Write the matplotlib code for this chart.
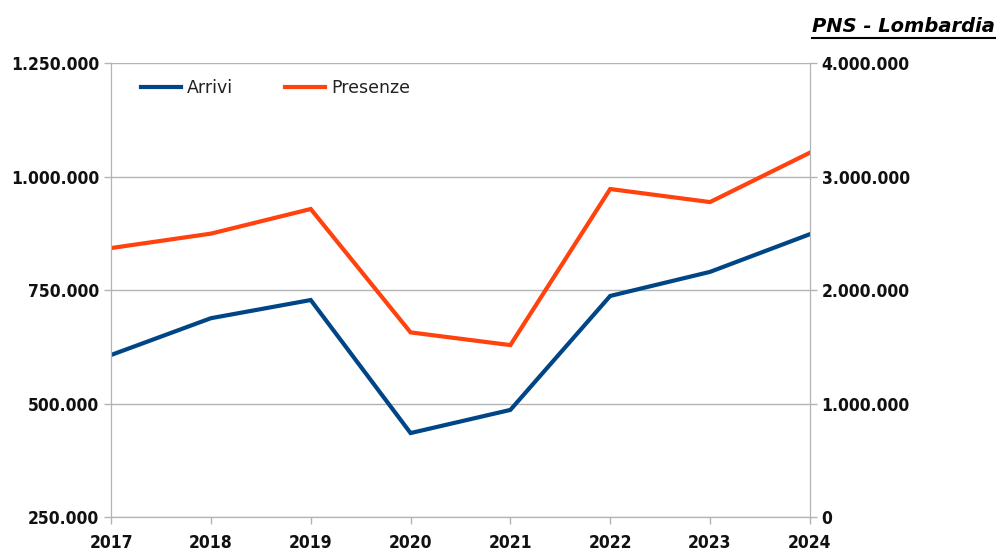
import matplotlib as mpl
mpl.use('Agg')

import numpy as np
import matplotlib.pyplot as plt
from matplotlib.lines import Line2D
from matplotlib.ticker import FuncFormatter

years = ['2017', '2018', '2019', '2020', '2021', '2022', '2023', '2024']
arrivi = [607000, 688000, 728000, 435000, 486000, 737000, 790000, 873000]
presenze = [2370000, 2497000, 2714000, 1627000, 1515000, 2890000, 2775000, 3210000]

BLUE = '#004586'
ORANGE = '#ff420e'
GRID = '#b3b3b3'

def it_fmt(v, pos):
    return '{:,.0f}'.format(v).replace(',', '.')

fig = plt.figure(figsize=(10.01, 5.53), dpi=100, facecolor='white')
ax1 = fig.add_axes([0.111, 0.065, 0.698, 0.821])
ax2 = ax1.twinx()

x = np.arange(len(years))
l1, = ax1.plot(x, arrivi, color=BLUE, linewidth=3.0, solid_joinstyle='miter', label='Arrivi')
l2, = ax2.plot(x, presenze, color=ORANGE, linewidth=3.0, solid_joinstyle='miter', label='Presenze')

ax1.set_xlim(0, len(years) - 1)
ax1.set_ylim(250000, 1250000)
ax2.set_ylim(0, 4000000)
ax1.set_yticks([250000, 500000, 750000, 1000000, 1250000])
ax2.set_yticks([0, 1000000, 2000000, 3000000, 4000000])
ax1.set_xticks(x)
ax1.set_xticklabels(years)
ax1.yaxis.set_major_formatter(FuncFormatter(it_fmt))
ax2.yaxis.set_major_formatter(FuncFormatter(it_fmt))

ax1.grid(True, axis='y', color=GRID, linewidth=1)
ax1.set_axisbelow(True)

for a in (ax1, ax2):
    for s in a.spines.values():
        s.set_color(GRID)
    a.spines['top'].set_visible(False)
    a.tick_params(colors=GRID, length=5, width=1, labelcolor='#111111', labelsize=12.5)
    for lab in a.get_yticklabels() + a.get_xticklabels():
        lab.set_fontweight('bold')
        lab.set_fontstretch('condensed')
ax1.tick_params(axis='x', pad=7)

leg = ax1.legend(handles=[l1, l2], loc='upper left', bbox_to_anchor=(0.02, 1.0), ncol=2,
                 frameon=False, fontsize=12.5, handlelength=2.3, columnspacing=3.0,
                 handletextpad=0.35)
for t in leg.get_texts():
    t.set_color('#222222')

title = fig.text(0.994, 0.952, 'PNS - Lombardia', ha='right', va='center', fontsize=14,
                 fontweight='bold', fontstyle='italic', color='black')
fig.canvas.draw()
bb = title.get_window_extent().transformed(fig.transFigure.inverted())
fig.add_artist(Line2D([bb.x0, bb.x1], [bb.y0 - 0.004, bb.y0 - 0.004], color='black',
                      linewidth=1.5, transform=fig.transFigure))

fig.savefig('out.png', dpi=100, facecolor='white')
